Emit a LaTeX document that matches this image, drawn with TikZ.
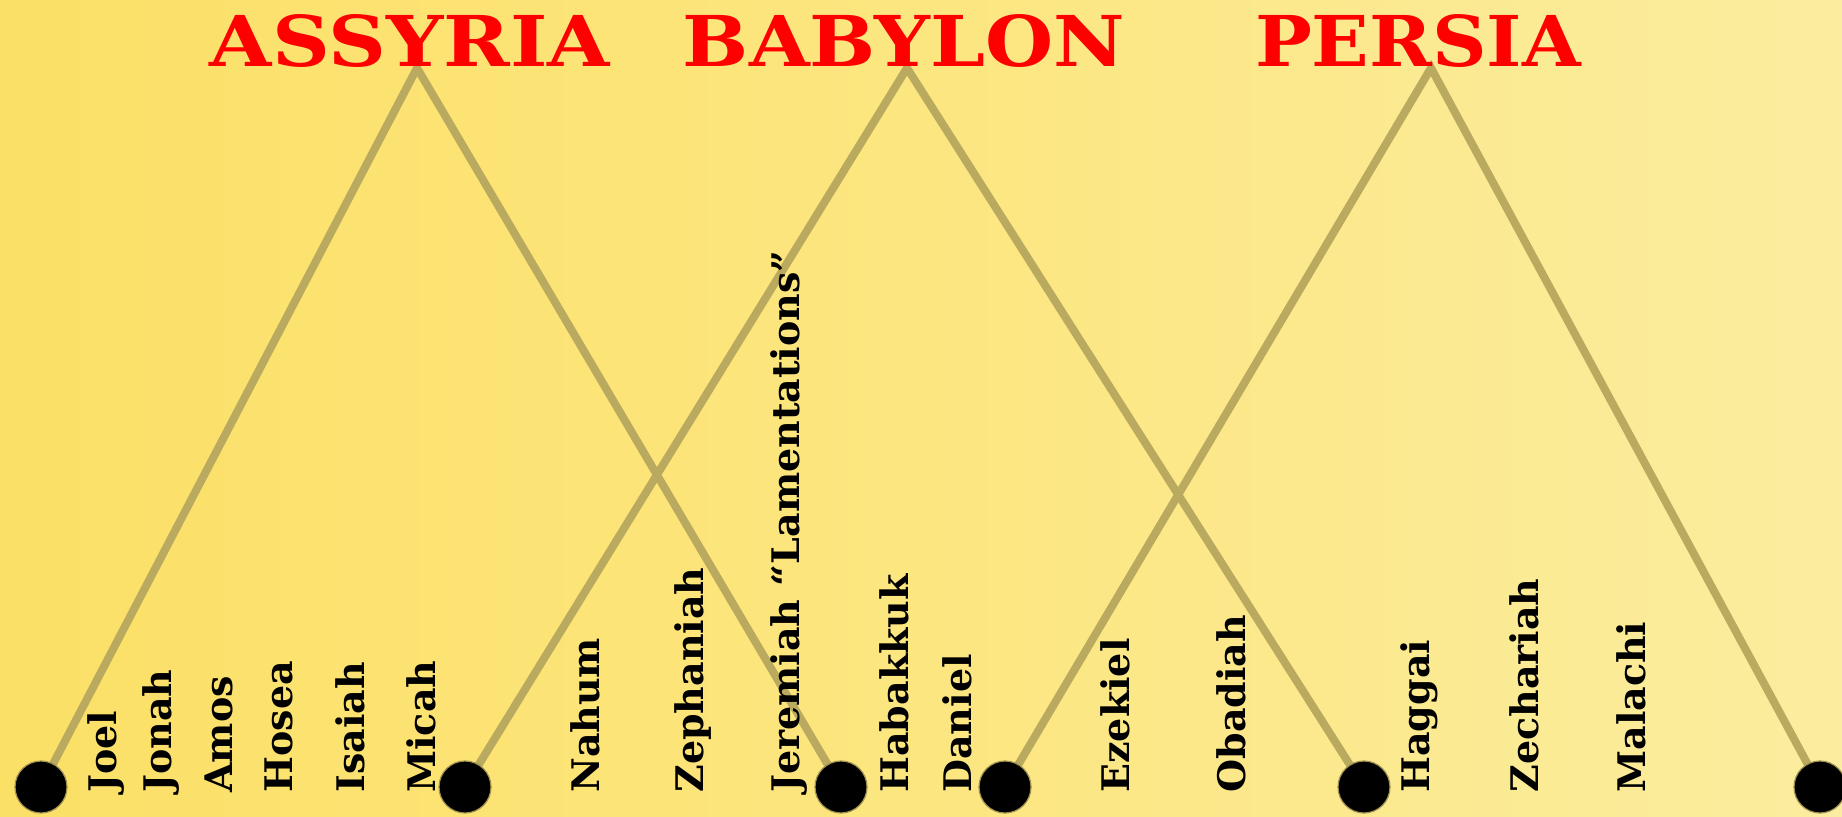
\documentclass[tikz,border=0pt]{standalone}
\usepackage{fontspec}
\newfontfamily\slab{DejaVu Serif}
\definecolor{bgA}{RGB}{250,216,76}
\definecolor{bgB}{RGB}{251,221,92}
\definecolor{bgC}{RGB}{252,230,128}
\definecolor{bgD}{RGB}{250,244,190}
\definecolor{ridge}{RGB}{186,170,96}
\definecolor{dotedge}{RGB}{160,145,80}
\pgfdeclarehorizontalshading{bgshade}{100bp}{color(0bp)=(bgA); color(15bp)=(bgB); color(50bp)=(bgC); color(100bp)=(bgD)}
\pgfdeclarelayer{bgl}
\pgfdeclarelayer{lines}
\pgfsetlayers{bgl,lines,main}
\tikzset{
  empire/.style={anchor=base, inner sep=0pt, text=red, font=\slab\bfseries},
  prophet/.style={rotate=90, anchor=base west, inner sep=0pt, text=black,
    font={\slab\bfseries\fontsize{19}{20}\selectfont}},
  dot/.style={circle, fill=black, draw=dotedge, line width=0.6pt,
    minimum size=26pt, inner sep=0pt},
  ridgeline/.style={draw=ridge, line width=4pt, line join=miter}
}
\begin{document}
\begin{tikzpicture}[x=0.5pt,y=-0.5pt]
\useasboundingbox (0,0) rectangle (1842,816);
\begin{pgfonlayer}{bgl}
\fill[shading=bgshade] (0,0) rectangle (1842,816);
\end{pgfonlayer}

% peaks
\coordinate (pA) at (417,68);
\coordinate (pB) at (907,68);
\coordinate (pC) at (1431,68);

% dots
\node[dot] (d1) at (41,787) {};
\node[dot] (d2) at (465,787) {};
\node[dot] (d3) at (841,787) {};
\node[dot] (d4) at (1005,787) {};
\node[dot] (d5) at (1364,787) {};
\node[dot] (d6) at (1820,787) {};

\begin{pgfonlayer}{lines}
\draw[ridgeline] (d1.center) -- (pA) -- (d3.center);
\draw[ridgeline] (d2.center) -- (pB) -- (d5.center);
\draw[ridgeline] (d4.center) -- (pC) -- (d6.center);
\end{pgfonlayer}

% titles
\node[empire] (tA) at (410,66) {\resizebox{200pt}{26pt}{ASSYRIA}};
\node[empire] (tB) at (904,66) {\resizebox{221pt}{26pt}{BABYLON}};
\node[empire] (tC) at (1418,66) {\resizebox{163pt}{26pt}{PERSIA}};

% prophets
\node[prophet] (joel) at (116,793) {Joel};
\node[prophet] (jonah) at (171,793) {Jonah};
\node[prophet] (amos) at (232,793) {Amos};
\node[prophet] (hosea) at (292,793) {Hosea};
\node[prophet] (isaiah) at (364,793) {Isaiah};
\node[prophet] (micah) at (435,793) {Micah};
\node[prophet] (nahum) at (599,793) {Nahum};
\node[prophet] (zeph) at (703,793) {Zephaniah};
\node[prophet] (jer) at (799,793) {Jeremiah “Lamentations”};
\node[prophet] (hab) at (908,793) {Habakkuk};
\node[prophet] (dan) at (971,793) {Daniel};
\node[prophet] (ezek) at (1129,793) {Ezekiel};
\node[prophet] (obad) at (1245,793) {Obadiah};
\node[prophet] (hag) at (1429,793) {Haggai};
\node[prophet] (zech) at (1538,793) {Zechariah};
\node[prophet] (mal) at (1645,793) {Malachi};
\end{tikzpicture}
\end{document}
